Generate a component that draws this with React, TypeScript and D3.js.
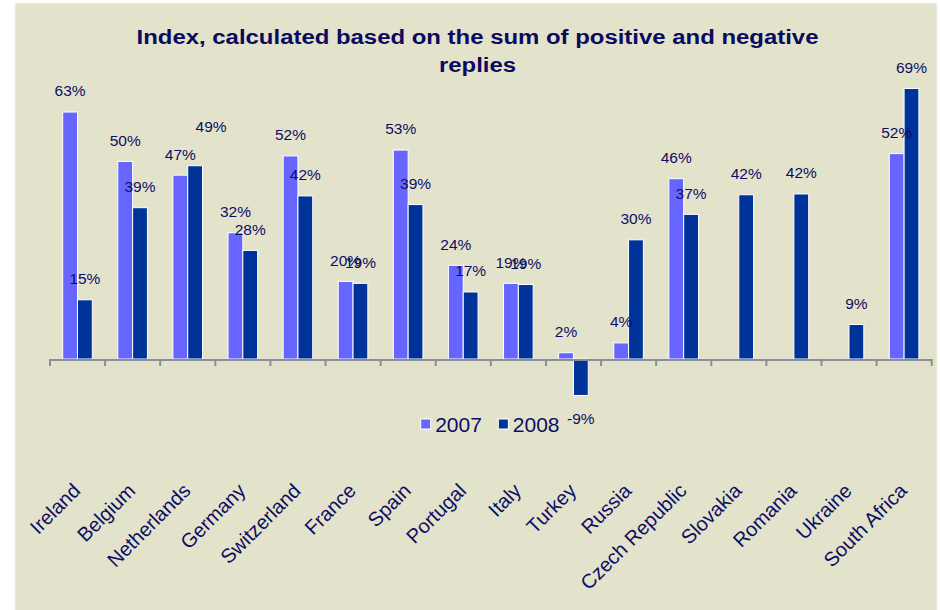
import React from "react";
import * as d3 from "d3";

const categories = [
  "Ireland", "Belgium", "Netherlands", "Germany", "Switzerland", "France", "Spain", "Portugal",
  "Italy", "Turkey", "Russia", "Czech Republic", "Slovakia", "Romania", "Ukraine", "South Africa",
];
const seriesNames = ["2007", "2008"];
const values2007: (number | null)[] = [63, 50.4, 46.9, 32.2, 51.8, 19.8, 53.3, 23.9, 19.3, 1.6, 4.1, 46, null, null, null, 52.4];
const values2008: (number | null)[] = [15.1, 38.6, 49.3, 27.7, 41.6, 19.3, 39.4, 17.1, 19, -9.3, 30.4, 36.9, 41.9, 42.1, 8.8, 69];
const title = ["Index, calculated based on the sum of positive and negative", "replies"];

const colors = ["#6666ff", "#003399"];
const textColor = "#0d0d66";
const font = "'Liberation Sans', Arial, sans-serif";
// one hand-placed label in the source chart
const nudged = { category: "Netherlands", series: 1, dx: 16, dy: -18 };

export default function App() {
  const W = 940, H = 610;
  const x = d3.scaleBand<string>().domain(categories).range([50, 931.7]).padding(0);
  const inner = d3.scaleBand<string>().domain(seriesNames).range([12.7, 42.3]).padding(0);
  const y = d3.scaleLinear().domain([-10, 70]).range([359 + 39.2, 359 - 70 * 3.92]);
  const series = [values2007, values2008];
  const tickXs = categories.map((c) => x(c)!).concat([x.range()[1]]);
  const titleX = 477.5;

  return (
    <svg width={W} height={H} style={{ position: "absolute", left: 0, top: 0, background: "#fff" }}>
      <rect x={15} y={3} width={922} height={620} fill="#e3e3cb" stroke="#f2f2e6" strokeWidth={1} />
      <g transform={`translate(${titleX} 0) scale(1.14 1)`}>
        {title.map((t, i) => (
          <text key={i} x={0} y={44 + i * 28.5} textAnchor="middle" fontFamily={font}
            fontWeight="bold" fontSize={21} fill="#0a0a60">{t}</text>
        ))}
      </g>
      {series.map((vals, si) =>
        vals.map((v, ci) => {
          if (v === null) return null;
          const c = categories[ci];
          const bx = x(c)! + inner(seriesNames[si])!;
          const top = Math.min(y(v), y(0));
          const h = Math.abs(y(v) - y(0));
          return (
            <rect key={`b${si}-${ci}`} x={bx} y={top} width={inner.bandwidth()} height={h}
              fill={colors[si]} stroke="#fff" strokeWidth={1} />
          );
        })
      )}
      <line x1={x.range()[0]} x2={x.range()[1]} y1={360} y2={360} stroke="#8a8d9c" strokeWidth={2} />
      {tickXs.map((tx, i) => (
        <line key={`t${i}`} x1={tx} x2={tx} y1={359} y2={366} stroke="#8a8d9c" strokeWidth={2} />
      ))}
      {series.map((vals, si) =>
        vals.map((v, ci) => {
          if (v === null) return null;
          const c = categories[ci];
          let cx = x(c)! + inner(seriesNames[si])! + inner.bandwidth() / 2;
          let cy = v >= 0 ? y(v) - 21 : y(v) + 23;
          if (nudged.category === c && nudged.series === si) {
            cx += nudged.dx;
            cy += nudged.dy;
          }
          return (
            <text key={`l${si}-${ci}`} x={cx} y={cy} dy="0.35em" textAnchor="middle"
              fontFamily={font} fontSize={15.5} fill={textColor}>{`${Math.round(v)}%`}</text>
          );
        })
      )}
      {categories.map((c) => {
        const ax = x(c)! + x.bandwidth() / 2 + 4;
        const ay = 492;
        return (
          <text key={`c${c}`} x={ax} y={ay} textAnchor="end" transform={`rotate(-45 ${ax} ${ay})`}
            fontFamily={font} fontSize={20} fill={textColor}>{c}</text>
        );
      })}
      {seriesNames.map((s, i) => {
        const lx = i === 0 ? 420.7 : 498.3;
        return (
          <g key={`lg${s}`}>
            <rect x={lx} y={419} width={10} height={10} fill={colors[i]} stroke="#fff" strokeWidth={1} />
            <text x={lx + 14.5} y={431.5} fontFamily={font} fontSize={21} fill={textColor}>{s}</text>
          </g>
        );
      })}
    </svg>
  );
}
